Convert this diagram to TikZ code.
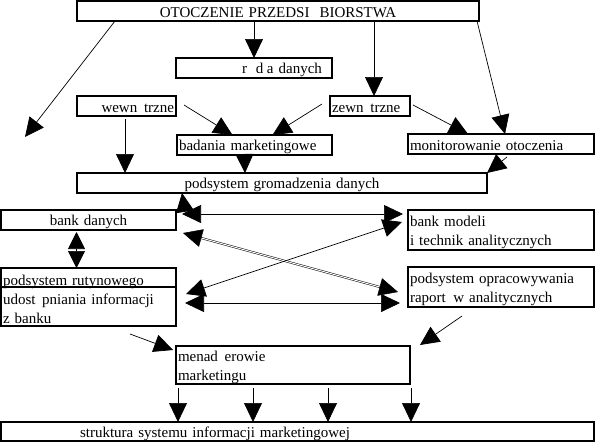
\documentclass[tikz,border=0pt]{standalone}
\usepackage{fontspec}
\setmainfont{Liberation Serif}
\usetikzlibrary{arrows.meta}

\begin{document}
\begin{tikzpicture}[x=1pt, y=-1pt,
	>={Triangle[length=19pt,width=18pt]},   %Pfeilspitzen
	box/.style={draw, line width=1.6pt, anchor=north west, outer sep=0pt, inner xsep=2pt, inner ysep=0pt,
		minimum height=20pt, align=left, execute at begin node={\rule[-2pt]{0pt}{17pt}}},
	arr/.style={->, line width=0.7pt},
	darr/.style={<->, line width=0.7pt},
	font=\fontsize{15}{19}\selectfont]
	%Bildbereich
	\useasboundingbox (0,0) rectangle (596,442);
	% Kaesten
	\node[box, text width=398pt, align=center] (otoczenie) at (77,1) {OTOCZENIE PRZEDSI\hspace{10pt}BIORSTWA};
	\node[box, text width=152pt] (zrodla) at (176,58) {\hspace*{64pt}r\hspace{9pt}d\hspace{3.5pt}a danych};
	\node[box, text width=95pt, align=right] (wewn) at (77,96) {wewn\hspace{6.7pt}trzne};
	\node[box, text width=76pt] (zewn) at (330,96) {zewn\hspace{6.7pt}trzne};
	\node[box, text width=151pt] (badania) at (177,135) {badania marketingowe};
	\node[box, text width=182pt] (monitor) at (408,134) {monitorowanie otoczenia};
	\node[box, text width=406pt, align=center] (gromadz) at (77,173) {podsystem gromadzenia danych};
	\node[box, text width=171pt, align=center] (bankd) at (1,210) {bank danych};
	\node[box, text width=182pt, minimum height=40pt] (bankm) at (408,210) {bank modeli\\i technik analitycznych};
	\node[box, text width=171pt, minimum height=58pt] (rutyn) at (1,268) {podsystem rutynowego\\udost\hspace{6.7pt}pniania informacji\\z banku};
	\node[box, text width=182pt, minimum height=40pt] (oprac) at (408,267) {podsystem opracowywania\\raport\hspace{7.5pt}w analitycznych};
	\node[box, text width=230pt, minimum height=38pt] (menad) at (176,346) {menad\hspace{6.7pt}erowie\\marketingu};
	\node[box, text width=589pt, minimum height=19pt] (strukt) at (1,422) {\hspace*{77pt}struktura systemu informacji marketingowej};
	\draw[line width=1.6pt] ([yshift=-19pt]rutyn.north west) -- ([yshift=-19pt]rutyn.north east);
	% Pfeile vom Umfeld
	\coordinate (links) at (25,137);
	\draw[arr] ([xshift=38pt]otoczenie.south west) -- (links);
	\draw[arr] ([xshift=-24pt]otoczenie.south) -- (zrodla.north);
	\draw[arr] ([xshift=96pt]otoczenie.south) -- ([xshift=4pt]zewn.north);
	\draw[arr] ([xshift=-2pt]otoczenie.south east) -- ([xshift=4pt]monitor.north);
	% Quellen
	\draw[arr] ([xshift=8pt,yshift=1pt]wewn.east) -- ([xshift=-22pt]badania.north);
	\draw[arr] ([xshift=-8pt,yshift=2pt]zewn.west) -- ([xshift=18pt]badania.north);
	\draw[arr] ([xshift=3pt,yshift=1pt]zewn.east) -- ([xshift=-33pt]monitor.north);
	\draw[arr] ([xshift=48pt,yshift=-3pt]wewn.south west) -- ([xshift=48pt]gromadz.north west);
	\draw[arr] ([xshift=-10pt]badania.south) -- ([xshift=168pt]gromadz.north west);
	\draw[arr] ([xshift=6pt,yshift=-3pt]monitor.south) -- (gromadz.north east);
	% Banken und Podsysteme
	\draw[arr] ([xshift=9pt,yshift=-2pt]bankd.north east) -- ([xshift=105pt]gromadz.south west);
	\draw[darr] ([xshift=6pt,yshift=-4pt]bankd.north east) -- ([xshift=-5pt,yshift=-4pt]bankm.north west);
	\draw[darr, double, double distance=1pt, line width=0.5pt] ([xshift=7pt,yshift=-23pt]bankd.north east) -- ([xshift=-10pt,yshift=-25pt]oprac.north west);
	\draw[darr] ([xshift=10pt,yshift=-26pt]rutyn.north east) -- ([xshift=-6pt,yshift=-12pt]bankm.north west);
	\draw[darr] ([xshift=9pt,yshift=-35pt]rutyn.north east) -- ([xshift=-8pt,yshift=-36pt]oprac.north west);
	\draw[{Triangle[length=17pt,width=17pt]}-{Triangle[length=17pt,width=17pt]}, line width=0.7pt] ([xshift=-12pt,yshift=-2pt]bankd.south) -- ([xshift=-12pt]rutyn.north);
	% Menedzer
	\draw[arr] ([xshift=-46pt,yshift=-8pt]rutyn.south east) -- ([xshift=-3pt,yshift=-4pt]menad.north west);
	\draw[arr] ([xshift=-39pt,yshift=-9pt]oprac.south) -- ([xshift=10pt,yshift=1pt]menad.north east);
	\foreach \dx [count=\i] in {2,77,152,235} {
		\coordinate (m\i) at ([xshift=\dx pt,yshift=-4pt]menad.south west);
		\draw[arr] (m\i) -- (m\i |- strukt.north);
	}
\end{tikzpicture}
\end{document}
